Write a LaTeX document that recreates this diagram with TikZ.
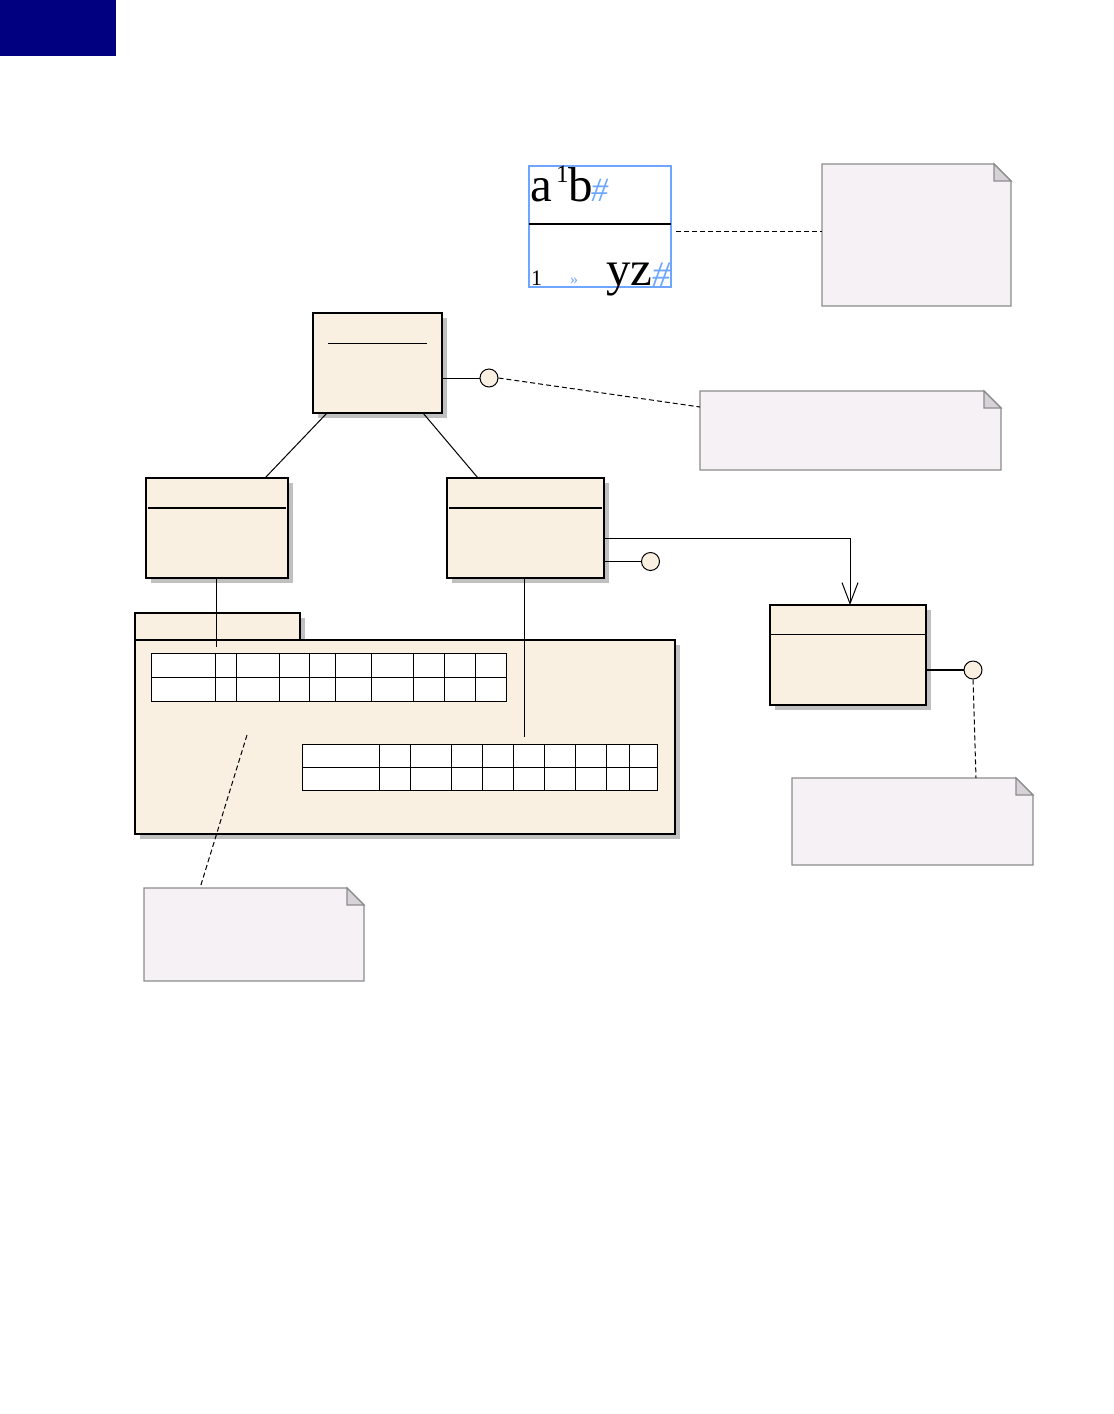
\documentclass[tikz,border=0pt]{standalone}
\usepackage{fontspec}
\setmainfont{Liberation Serif}
\usetikzlibrary{arrows.meta,shadows}
\definecolor{navyblk}{HTML}{000080}
\definecolor{beige}{HTML}{FAF0E2}
\definecolor{notefill}{HTML}{F5F1F5}
\definecolor{noteedge}{HTML}{8C8C8C}
\definecolor{earfill}{HTML}{D6D2D8}
\definecolor{shadowgray}{HTML}{C0C0C0}
\definecolor{selblue}{HTML}{6EA6FF}
\newcommand{\drawnote}[1]{%
  \draw[noteedge, fill=notefill, line width=1.2pt, line join=miter]
    (#1.north west) -- ([xshift=-17pt]#1.north east) -- ([yshift=-17pt]#1.north east)
    -- (#1.south east) -- (#1.south west) -- cycle;
  \draw[noteedge, fill=earfill, line width=1.2pt]
    ([xshift=-17pt]#1.north east) -- ([xshift=-17pt,yshift=-17pt]#1.north east)
    -- ([yshift=-17pt]#1.north east) -- cycle;}
\tikzset{
  classbox/.style={draw=black, line width=1.5pt, fill=beige, anchor=north west,
    inner sep=0pt, outer sep=0pt,
    drop shadow={shadow xshift=5pt, shadow yshift=-5pt, fill=shadowgray, opacity=1}},
  notebox/.style={anchor=north west, inner sep=0pt, outer sep=0pt},
  lolli/.style={circle, draw=black, line width=1pt, fill=beige, minimum size=18pt, inner sep=0pt},
  conn/.style={draw=black, line width=1pt},
  thickconn/.style={draw=black, line width=1.6pt},
  dashconn/.style={draw=black, line width=1pt, dash pattern=on 5pt off 3pt},
  txt/.style={anchor=base west, inner sep=0pt, outer sep=0pt},
  cell/.style={draw=black, line width=1pt, fill=white}
}
\begin{document}
\begin{tikzpicture}[x=1pt, y=-1pt]
\useasboundingbox[fill=white] (0,0) rectangle (1114,1414);
% navy block
\fill[navyblk] (0,0) rectangle (116,56);

% top selected element
\node[draw=selblue, line width=1.5pt, anchor=north west, inner sep=0pt, outer sep=0pt,
  minimum width=142pt, minimum height=121pt] (sel) at (529,166) {};
\draw[black, line width=2pt] (sel.west |- 0,224) -- (sel.east |- 0,224);
\node[txt, font=\fontsize{49}{49}\selectfont] (ta) at (530,201) {a};
\node[txt, font=\fontsize{25}{25}\selectfont] (t1) at (556,182) {1};
\node[txt, font=\fontsize{49}{49}\selectfont] (tb) at (568,201) {b};
\node[txt, font=\fontsize{34}{34}\selectfont\itshape, text=selblue] (th1) at (591,201) {\#};
\node[txt, font=\fontsize{22}{22}\selectfont] (tn) at (531,285) {1};
\node[txt, font=\fontsize{16}{16}\selectfont, text=selblue] (tq) at (570,284) {»};
\node[txt, font=\fontsize{49}{49}\selectfont] (tyz) at (606,285) {yz};
\node[txt, font=\fontsize{36}{36}\selectfont\itshape, text=selblue] (th2) at (652,286) {\#};

% notes
\node[notebox, minimum width=189pt, minimum height=142pt] (n1) at (822,164) {};
\node[notebox, minimum width=301pt, minimum height=79pt] (n2) at (700,391) {};
\node[notebox, minimum width=241pt, minimum height=87pt] (n4) at (792,778) {};
\node[notebox, minimum width=220pt, minimum height=93pt] (n3) at (144,888) {};
\drawnote{n1}
\drawnote{n2}
\drawnote{n4}
\drawnote{n3}

% package
\node[classbox, minimum width=165pt, minimum height=27pt] (ptab) at (135,613) {};
\node[classbox, minimum width=540pt, minimum height=194pt] (pbody) at (135,640) {};
\draw[black, line width=1.5pt] (ptab.north west) -- (ptab.north east) -- (ptab.south east);
\draw[black, line width=1.5pt] (ptab.north west) -- (ptab.south west);

% tables
\foreach \r in {653,677}{
  \foreach \a/\b in {151/215,215/236,236/279,279/309,309/335,335/371,371/413,413/444,444/475,475/506}{
    \draw[cell] (\a,\r) rectangle (\b,\r+24);
  }
}
\foreach \r in {744,767}{
  \foreach \a/\b in {302/379,379/410,410/451,451/482,482/513,513/544,544/575,575/606,606/629,629/657}{
    \draw[cell] (\a,\r) rectangle (\b,\r+23.5);
  }
}

% classes
\node[classbox, line width=2pt, minimum width=129pt, minimum height=100pt] (A) at (313,313) {};
\draw[black, line width=1pt] (328,343) -- (427,343);
\node[classbox, minimum width=142pt, minimum height=100pt] (B) at (146,478) {};
\draw[black, line width=2pt] (148,508) -- (286,508);
\node[classbox, minimum width=157pt, minimum height=100pt] (C) at (447,478) {};
\draw[black, line width=2pt] (449,508) -- (602,508);
\node[classbox, minimum width=156pt, minimum height=100pt] (D) at (770,605) {};
\draw[black, line width=1pt] (D.west |- 0,634) -- (D.east |- 0,634);

% lollipops
\node[lolli] (cA) at (489,378) {};
\node[lolli] (cC) at (650.5,561.5) {};
\node[lolli] (cD) at (973,670) {};
\draw[conn] (A.east |- cA) -- (cA.west);
\draw[thickconn] (C.east |- cC) -- (cC.west);
\draw[thickconn] (D.east |- cD) -- (cD.west);

% generalisations
\draw[conn] ([xshift=14pt]A.south west) -- ([xshift=119pt]B.north west);
\draw[conn] ([xshift=110pt]A.south west) -- ([xshift=31pt]C.north west);

% association with open arrow
\draw[conn, -{Straight Barb[length=21pt, width=16pt, line width=1pt]}]
  ([yshift=-60pt]C.north east) -| ([xshift=80pt]D.north west);

% lines into package
\coordinate (pB) at (216,647);
\coordinate (pC) at (524,737);
\draw[conn] (B.south -| pB) -- (pB);
\draw[conn] (C.south -| pC) -- (pC);

% dashed note links
\coordinate (p3) at (247,735);
\draw[dashconn] ([xshift=5pt]sel.east |- 0,231) -- (n1.west |- 0,231);
\draw[dashconn] (cA.east) -- ([yshift=-16pt]n2.north west);
\draw[dashconn] (cD.south) -- ([xshift=184pt]n4.north west);
\draw[dashconn] (p3) -- ([xshift=56pt]n3.north west);
\end{tikzpicture}
\end{document}
